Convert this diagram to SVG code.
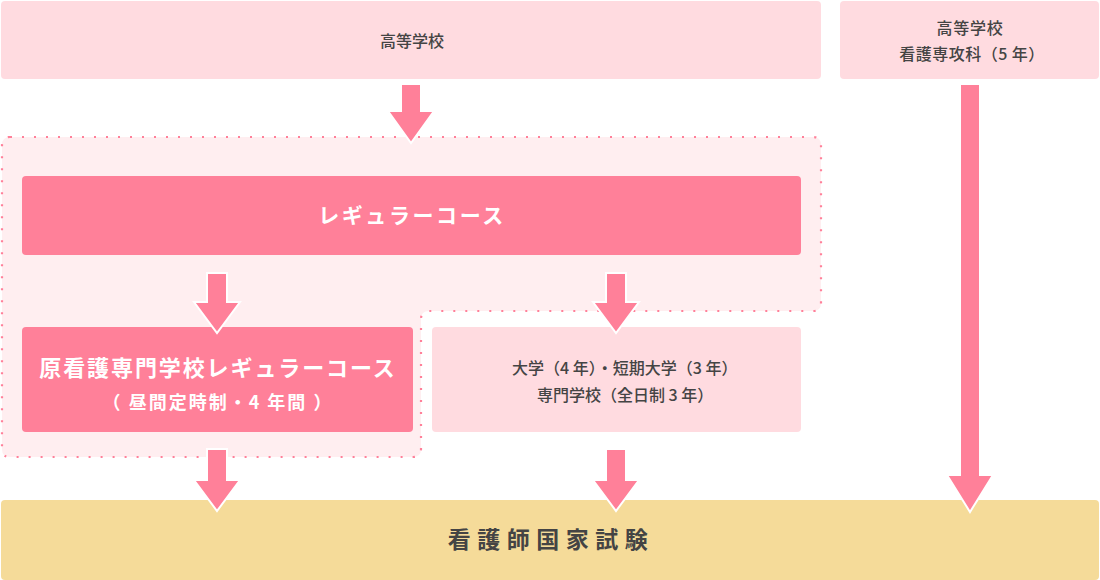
<svg xmlns="http://www.w3.org/2000/svg" width="1100" height="580" viewBox="0 0 1100 580">
<defs>
<style>
.light{fill:#ffdbe0;}
.dark{fill:#ff8099;}
.exam{fill:#f5db99;}
.t{font-family:"Noto Sans CJK JP","Noto Sans",sans-serif;fill:#444;font-size:16px;font-weight:500;}
.w{font-family:"Noto Sans CJK JP","Noto Sans",sans-serif;fill:#fff;font-weight:bold;}
.arrow{fill:#ff8099;stroke:#fff;stroke-width:2;stroke-linejoin:miter;}
</style>
</defs>
<rect width="1100" height="580" fill="#fff"/>
<g id="region">
<path d="M10,137 H813 Q821,137 821,145 V303 Q821,311 813,311 H429 Q421,311 421,319 V449 Q421,457 413,457 H10 Q2,457 2,449 V145 Q2,137 10,137 Z" fill="#ffeef0" stroke="#ff8099" stroke-width="2.2" stroke-dasharray="2 10" stroke-linecap="butt"/>
</g>
<g id="high-school">
<rect class="light" x="1" y="1" width="820" height="78" rx="4"/>
<text class="t" x="412" y="47" text-anchor="middle">高等学校</text>
</g>
<g id="high-school-nursing">
<rect class="light" x="840" y="1" width="259" height="78" rx="4"/>
<text class="t" x="970" y="34" text-anchor="middle" letter-spacing="0.8">高等学校</text>
<text class="t" x="972" y="60" text-anchor="middle" letter-spacing="0.5">看護専攻科（5 年）</text>
</g>
<g id="regular-course">
<rect class="dark" x="22" y="176" width="779" height="79" rx="4"/>
<text class="w" x="412" y="223" text-anchor="middle" font-size="21" letter-spacing="2.6">レギュラーコース</text>
</g>
<g id="hara-course">
<rect class="dark" x="22" y="327" width="391" height="105" rx="4"/>
<text class="w" x="218" y="376" text-anchor="middle" font-size="22" letter-spacing="1.9">原看護専門学校レギュラーコース</text>
<text class="w" x="218" y="409" text-anchor="middle" font-size="18" letter-spacing="2">（ 昼間定時制・4 年間 ）</text>
</g>
<g id="university">
<rect class="light" x="432" y="327" width="369" height="105" rx="4"/>
<text class="t" x="512" y="374">大学（4 年）・短期大学（3 年）</text>
<text class="t" x="537" y="401">専門学校（全日制 3 年）</text>
</g>
<g id="exam">
<rect class="exam" x="1" y="500" width="1098" height="80" rx="4"/>
<text class="t" x="551" y="548" text-anchor="middle" style="font-size:23px;font-weight:bold;letter-spacing:6.5px">看護師国家試験</text>
</g>
<g id="connectors">
<polygon class="arrow" points="401,84 421,84 421,111 434,111 411,143 388,111 401,111"/>
<polygon class="arrow" points="960,84 980,84 980,475 993,475 970,512 947,475 960,475"/>
<polygon class="arrow" points="207,273 227,273 227,302 240,302 217,333 194,302 207,302"/>
<polygon class="arrow" points="606,273 626,273 626,302 639,302 616,333 593,302 606,302"/>
<polygon class="arrow" points="207,449 227,449 227,480 240,480 217,511 194,480 207,480"/>
<polygon class="arrow" points="606,449 626,449 626,480 639,480 616,511 593,480 606,480"/>
</g>
</svg>
